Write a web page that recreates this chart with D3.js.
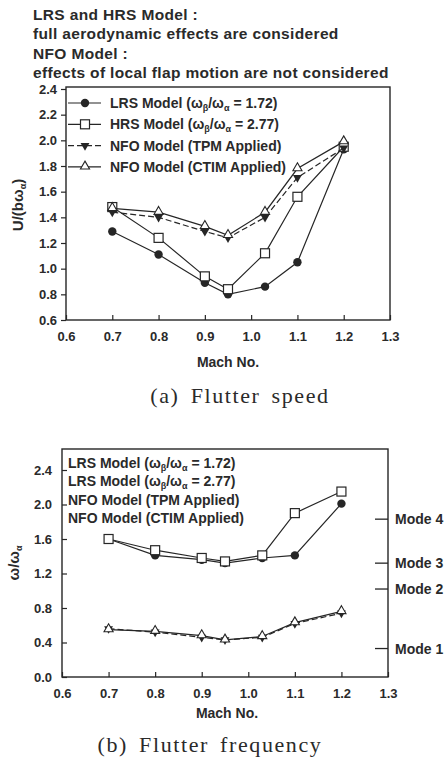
<!DOCTYPE html>
<html>
<head>
<meta charset="utf-8">
<script src="https://cdn.jsdelivr.net/npm/d3@7"></script>
<style>
  body { margin: 0; background: #fff; }
  svg { display: block; }
  text { font-family: "Liberation Sans", Arial, sans-serif; font-weight: bold; fill: #2a2a2a; }
  .cap { font-family: "Liberation Serif", "DejaVu Serif", serif; font-weight: normal; letter-spacing: 1.6px; word-spacing: 4px; }
</style>
</head>
<body>
<svg width="446" height="759"></svg>
<script>
// data
const mach = [0.7, 0.8, 0.9, 0.95, 1.03, 1.1, 1.2]
const xTicks = [0.6, 0.7, 0.8, 0.9, 1.0, 1.1, 1.2, 1.3]

// (a) flutter speed U/(b w_a)
const speedLRS  = [1.29, 1.11, 0.89, 0.80, 0.86, 1.05, 1.93]
const speedHRS  = [1.48, 1.24, 0.94, 0.84, 1.12, 1.56, 1.95]
const speedTPM  = [1.44, 1.40, 1.29, 1.24, 1.40, 1.71, 1.94]
const speedCTIM = [1.47, 1.44, 1.33, 1.26, 1.44, 1.78, 1.99]
const speedTicks = [0.6, 0.8, 1.0, 1.2, 1.4, 1.6, 1.8, 2.0, 2.2, 2.4]

// (b) flutter frequency w/w_a
const freqLRS  = [1.60, 1.41, 1.36, 1.32, 1.38, 1.41, 2.01]
const freqHRS  = [1.60, 1.47, 1.38, 1.34, 1.41, 1.90, 2.15]
const freqTPM  = [0.56, 0.52, 0.46, 0.43, 0.46, 0.62, 0.74]
const freqCTIM = [0.55, 0.53, 0.48, 0.43, 0.47, 0.63, 0.76]
const freqTicks = [0.0, 0.4, 0.8, 1.2, 1.6, 2.0, 2.4]
const modeVals = [0.33, 1.02, 1.32, 1.83]
const modeNames = ["Mode 1", "Mode 2", "Mode 3", "Mode 4"]

const header = ["LRS and HRS Model :", "full aerodynamic effects are considered",
                "NFO Model :", "effects of local flap motion are not considered"]

const ink = "#262626"
const svg = d3.select("svg")

svg.append("g").selectAll("text")
  .data(header)
  .join("text")
    .attr("x", 33)
    .attr("y", (d, i) => 20 + i * 19.3)
    .attr("font-size", 15.5)
    .attr("letter-spacing", 0.35)
    .text(d => d)

// marker drawing, one kind per series
function marker(g, kind, cx, cy) {
  if (kind == "circle") {
    g.append("circle").attr("cx", cx).attr("cy", cy).attr("r", 4.2).attr("fill", ink)
  } else if (kind == "square") {
    g.append("rect").attr("x", cx - 4.5).attr("y", cy - 4.5).attr("width", 9).attr("height", 9)
      .attr("fill", "#fff").attr("stroke", ink).attr("stroke-width", 1.2)
  } else if (kind == "down") {
    g.append("path").attr("d", d3.symbol(d3.symbolTriangle, 34)())
      .attr("transform", `translate(${cx},${cy}) rotate(180)`).attr("fill", ink)
  } else {
    g.append("path").attr("d", d3.symbol(d3.symbolTriangle, 36)())
      .attr("transform", `translate(${cx},${cy - 0.5})`)
      .attr("fill", "#fff").attr("stroke", ink).attr("stroke-width", 1.1)
  }
}

function series(g, x, y, vals, kind, dashed) {
  const line = d3.line().x((d, i) => x(mach[i])).y(d => y(d))
  g.append("path")
    .attr("d", line(vals))
    .attr("fill", "none")
    .attr("stroke", ink)
    .attr("stroke-width", 1.2)
    .attr("stroke-dasharray", dashed ? "6,3" : null)
  vals.forEach((v, i) => marker(g, kind, x(mach[i]), y(v)))
}

function frame(g, x, y, top, yTickOut) {
  const [x0, x1] = x.range()
  const y0 = y.range()[0]
  g.append("rect")
    .attr("x", x0).attr("y", top)
    .attr("width", x1 - x0).attr("height", y0 - top)
    .attr("fill", "none").attr("stroke", ink).attr("stroke-width", 1.4)

  g.append("g")
    .attr("transform", `translate(0,${y0})`)
    .call(d3.axisBottom(x).tickValues(xTicks).tickFormat(d3.format(".1f")).tickSize(-5).tickPadding(12))
    .call(a => a.select(".domain").remove())
    .call(a => a.selectAll("line").attr("stroke", ink).attr("stroke-width", 1.2))
    .call(a => a.selectAll("text").attr("font-size", 13).attr("fill", ink))

  g.append("g")
    .attr("transform", `translate(${x0},0)`)
    .call(d3.axisLeft(y).tickValues(y.ticksList).tickFormat(d3.format(".1f"))
      .tickSize(yTickOut ? 5 : -5).tickPadding(yTickOut ? 4 : 10))
    .call(a => a.select(".domain").remove())
    .call(a => a.selectAll("line").attr("stroke", ink).attr("stroke-width", 1.2))
    .call(a => a.selectAll("text").attr("font-size", 13).attr("fill", ink))
}

function omegaRatio(t, val) {
  t.append("tspan").text("(ω")
  t.append("tspan").attr("font-size", 9).attr("dy", 3).text("β")
  t.append("tspan").attr("dy", -3).text("/ω")
  t.append("tspan").attr("font-size", 9).attr("dy", 3).text("α")
  t.append("tspan").attr("dy", -3).text(" = " + val + ")")
}

// ---------- (a) flutter speed ----------
const xa = d3.scaleLinear().domain([0.6, 1.3]).range([66, 390])
const ya = d3.scaleLinear().domain([0.6, 2.4]).range([320, 89])
ya.ticksList = speedTicks
const ga = svg.append("g")
frame(ga, xa, ya, 87, true)

series(ga, xa, ya, speedLRS, "circle", false)
series(ga, xa, ya, speedHRS, "square", false)
series(ga, xa, ya, speedTPM, "down", true)
series(ga, xa, ya, speedCTIM, "up", false)

const legA = [
  {kind: "circle", dashed: false, name: "LRS Model ", val: "1.72"},
  {kind: "square", dashed: false, name: "HRS Model ", val: "2.77"},
  {kind: "down", dashed: true, name: "NFO Model (TPM Applied)"},
  {kind: "up", dashed: false, name: "NFO Model (CTIM Applied)"}
]
legA.forEach((d, i) => {
  const ly = 103 + i * 21.3
  ga.append("line").attr("x1", 68).attr("x2", 101).attr("y1", ly).attr("y2", ly)
    .attr("stroke", ink).attr("stroke-width", 1.2).attr("stroke-dasharray", d.dashed ? "6,3" : null)
  marker(ga, d.kind, 85, ly)
  const t = ga.append("text").attr("x", 110).attr("y", ly + 5).attr("font-size", 14)
  t.append("tspan").text(d.name)
  if (d.val) omegaRatio(t, d.val)
})

const ta = ga.append("text").attr("transform", "translate(23,205) rotate(-90)")
  .attr("text-anchor", "middle").attr("font-size", 15).attr("font-weight", "normal")
ta.append("tspan").text("U/(bω")
ta.append("tspan").attr("font-size", 9).attr("dy", 3).text("α")
ta.append("tspan").attr("dy", -3).text(")")

ga.append("text").attr("x", 228).attr("y", 367).attr("text-anchor", "middle")
  .attr("font-size", 14).text("Mach No.")
ga.append("text").attr("class", "cap").attr("x", 240).attr("y", 403)
  .attr("text-anchor", "middle").attr("font-size", 22).text("(a) Flutter speed")

// ---------- (b) flutter frequency ----------
const xb = d3.scaleLinear().domain([0.6, 1.3]).range([62, 388])
const yb = d3.scaleLinear().domain([0, 2.4]).range([677, 470])
yb.ticksList = freqTicks
const gb = svg.append("g")
frame(gb, xb, yb, 449, false)

series(gb, xb, yb, freqLRS, "circle", false)
series(gb, xb, yb, freqHRS, "square", false)
series(gb, xb, yb, freqTPM, "down", true)
series(gb, xb, yb, freqCTIM, "up", false)

// mode reference ticks on the right edge
gb.append("g").selectAll("line")
  .data(modeVals)
  .join("line")
    .attr("x1", 375).attr("x2", 388)
    .attr("y1", d => yb(d)).attr("y2", d => yb(d))
    .attr("stroke", ink).attr("stroke-width", 1.3)
gb.append("g").selectAll("text")
  .data(modeVals)
  .join("text")
    .attr("x", 395).attr("y", d => yb(d) + 5)
    .attr("font-size", 14)
    .text((d, i) => modeNames[i])

const legB = [
  {name: "LRS Model ", val: "1.72"},
  {name: "LRS Model ", val: "2.77"},
  {name: "NFO Model (TPM Applied)"},
  {name: "NFO Model (CTIM Applied)"}
]
legB.forEach((d, i) => {
  const t = gb.append("text").attr("x", 68).attr("y", 468 + i * 18.3).attr("font-size", 14)
  t.append("tspan").text(d.name)
  if (d.val) omegaRatio(t, d.val)
})

const tb = gb.append("text").attr("transform", "translate(19,563) rotate(-90)")
  .attr("text-anchor", "middle").attr("font-size", 15).attr("font-weight", "normal")
tb.append("tspan").text("ω/ω")
tb.append("tspan").attr("font-size", 9).attr("dy", 3).text("α")

gb.append("text").attr("x", 227).attr("y", 718).attr("text-anchor", "middle")
  .attr("font-size", 14).text("Mach No.")
gb.append("text").attr("class", "cap").attr("x", 210).attr("y", 752)
  .attr("text-anchor", "middle").attr("font-size", 22).text("(b) Flutter frequency")
</script>
</body>
</html>
